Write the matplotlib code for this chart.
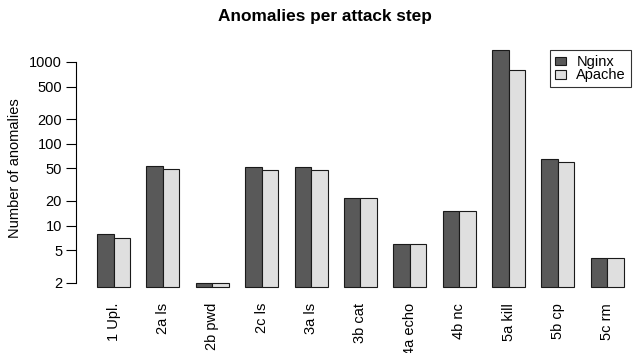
import numpy as np
import matplotlib
matplotlib.use("Agg")
import matplotlib.pyplot as plt
from matplotlib.patches import Patch

# data
steps = ["1 Upl.", "2a ls", "2b pwd", "2c ls", "3a ls", "3b cat",
         "4a echo", "4b nc", "5a kill", "5b cp", "5c rm"]
nginx = [8, 54, 2, 52, 52, 22, 6, 15, 1400, 65, 4]
apache = [7, 49, 2, 48, 48, 22, 6, 15, 800, 60, 4]
yticks = [2, 5, 10, 20, 50, 100, 200, 500, 1000]

plt.rcParams["font.family"] = ["Liberation Sans", "DejaVu Sans"]

W, H = 642, 353
fig = plt.figure(figsize=(W / 100, H / 100), dpi=100)
# plot region in pixels, R-like layout
left, right, top, bottom = 76, 642, 40.5, 296
ax = fig.add_axes([left / W, 1 - bottom / H, (right - left) / W, (bottom - top) / H])

# R barplot(beside=TRUE) layout: bar width 1, one unit gap between groups
n = len(steps)
x_ng = 1 + 3 * np.arange(n)
x_ap = x_ng + 1
base = 0.9 * min(min(nginx), min(apache))
ax.bar(x_ng, np.array(nginx) - base, bottom=base, width=1, align="edge",
       color="#595959", edgecolor="#1a1a1a", linewidth=0.8)
ax.bar(x_ap, np.array(apache) - base, bottom=base, width=1, align="edge",
       color="#dfdfdf", edgecolor="#1a1a1a", linewidth=0.8)

ax.set_yscale("log")
ymax = max(max(nginx), max(apache))
span = np.log10(ymax / base) * 0.04
ax.set_ylim(base / 10 ** span, ymax * 10 ** span)
unit = 16.46
ax.set_xlim(-0.28, -0.28 + (right - left) / unit)

fs = 10.5
ax.set_yticks(yticks)
ax.set_yticklabels([str(v) for v in yticks], fontsize=fs)
ax.yaxis.set_minor_locator(matplotlib.ticker.NullLocator())
ax.tick_params(axis="y", length=7, width=0.8, pad=3)
ax.spines["left"].set_bounds(yticks[0], yticks[-1])
ax.spines["left"].set_linewidth(0.8)
for s in ["top", "right", "bottom"]:
    ax.spines[s].set_visible(False)

ax.set_xticks(x_ng + 1)
ax.set_xticklabels(steps, rotation=90, fontsize=fs, va="top", ha="center")
ax.tick_params(axis="x", length=0, pad=5)

ax.set_ylabel("Number of anomalies", fontsize=fs, labelpad=5)
fig.text(325 / W, 1 - 17 / H, "Anomalies per attack step", fontsize=12.4,
         fontweight="bold", ha="center", va="center")

handles = [Patch(facecolor="#595959", edgecolor="#1a1a1a", linewidth=0.8, label="Nginx"),
           Patch(facecolor="#dfdfdf", edgecolor="#1a1a1a", linewidth=0.8, label="Apache")]
leg = fig.legend(handles=handles, loc="upper left",
                 bbox_to_anchor=(550 / W, 1 - 50 / H), fontsize=fs,
                 frameon=True, fancybox=False, edgecolor="black",
                 handlelength=0.75, handleheight=0.55, handletextpad=0.7,
                 labelspacing=-0.05, borderpad=0.35, borderaxespad=0)
leg.get_frame().set_linewidth(0.8)

fig.savefig("out.png", dpi=100)
